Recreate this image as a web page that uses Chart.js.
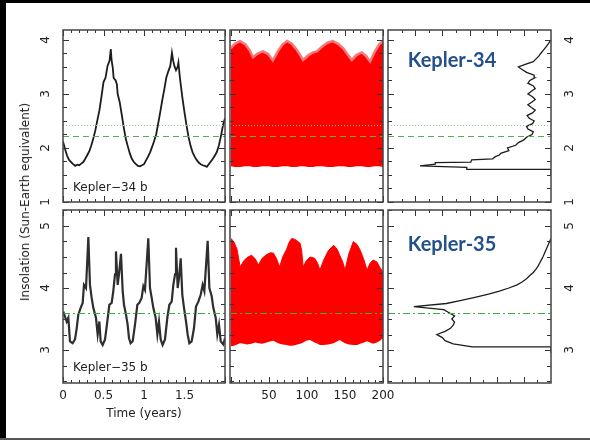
<!DOCTYPE html>
<html>
<head>
<meta charset="utf-8">
<script src="https://cdn.jsdelivr.net/npm/chart.js"></script>
<style>
  body { margin: 0; background: #fff; }
  #sheet { position: relative; width: 590px; height: 442px; overflow: hidden; background: #fff; }
  #sheet canvas { position: absolute; }
  .bar { position: absolute; z-index: 5; }
  #ytitle {
    position: absolute; left: 25px; top: 202px; z-index: 4;
    transform: translate(-50%, -50%) rotate(-90deg);
    font: 12px "DejaVu Sans", sans-serif; color: #222; white-space: nowrap;
  }
</style>
</head>
<body>
<div id="sheet">
  <div class="bar" style="left:0;top:0;width:590px;height:3px;background:#000"></div>
  <div class="bar" style="left:0;top:0;width:6px;height:440px;background:#000"></div>
  <div class="bar" style="left:0;top:438px;width:590px;height:2px;background:#555"></div>
  <div id="ytitle">Insolation (Sun-Earth equivalent)</div>
  <canvas id="k34Time"></canvas>
  <canvas id="k34Long"></canvas>
  <canvas id="k34Hist"></canvas>
  <canvas id="k35Time"></canvas>
  <canvas id="k35Long"></canvas>
  <canvas id="k35Hist"></canvas>
</div>
<script>
// ---- Kepler-34 b, first two years (years, insolation)
var k34bTime = [0,0.025,0.05,0.075,0.1,0.125,0.15,0.175,0.2,0.225,0.25,0.275,0.3,0.325,0.35,0.375,0.4,0.425,0.45,0.475,0.5,0.525,0.55,0.575,
  0.59,0.6,0.615,0.625,0.65,0.665,0.675,
  0.7,0.725,0.75,0.775,0.8,0.825,0.85,0.875,0.9,0.925,0.95,0.975,1,1.025,1.05,1.075,1.1,1.125,1.15,1.175,1.2,1.225,1.25,1.275,1.3,1.325,
  1.345,1.36,1.375,1.395,1.415,1.425,1.44,1.45,
  1.475,1.5,1.525,1.55,1.575,1.6,1.625,1.65,1.675,1.7,1.725,1.75,1.775,1.8,1.825,1.85,1.875,1.9,1.925,1.95,1.975,2];
var k34bInsol = [2.12,1.98,1.86,1.78,1.74,1.70,1.67,1.69,1.68,1.71,1.74,1.80,1.87,1.94,2.05,2.18,2.33,2.52,2.70,2.95,3.22,3.30,3.52,3.62,
  3.83,3.62,3.48,3.30,3.25,3.18,3.00,
  2.85,2.62,2.38,2.17,2.03,1.90,1.80,1.74,1.70,1.67,1.66,1.68,1.70,1.77,1.84,1.92,2.02,2.13,2.25,2.45,2.66,2.88,3.08,3.30,3.42,3.52,
  3.76,3.62,3.52,3.44,3.50,3.58,3.35,3.22,
  2.92,2.66,2.42,2.20,2.04,1.92,1.84,1.78,1.73,1.70,1.68,1.67,1.65,1.70,1.75,1.80,1.86,1.93,2.05,2.22,2.42,2.55];

// ---- Kepler-35 b, first two years
var k35bTime = [0.004,0.045,0.066,0.086,0.119,0.148,0.169,0.189,0.218,0.243,
  0.259,0.284,0.313,0.333,0.354,0.374,0.407,0.428,0.449,0.465,
  0.490,0.519,0.547,0.572,0.601,0.621,0.642,0.654,0.675,0.691,
  0.716,0.737,0.753,0.778,0.798,0.815,0.835,0.860,0.889,0.918,
  0.942,0.971,0.992,1.012,1.053,1.074,1.095,1.115,1.144,1.165,
  1.185,1.206,1.230,1.259,1.288,1.313,1.342,1.362,1.383,1.395,
  1.416,1.432,1.453,1.473,1.494,1.519,1.539,1.560,1.588,1.617,
  1.642,1.671,1.700,1.724,1.745,1.786,1.807,1.835,1.856,1.885,
  1.905,1.926,1.947,1.979,2.000];
var k35bInsol = [3.62,3.46,3.52,3.14,3.11,3.17,3.35,3.57,3.68,3.76,
  4.05,4.00,4.82,4.05,3.84,3.68,3.52,3.25,3.46,3.14,
  3.08,3.17,3.46,3.73,3.76,3.95,4.22,4.59,4.05,4.22,
  4.55,3.95,3.73,3.57,3.41,3.19,3.11,3.14,3.41,3.73,
  3.76,3.84,4.03,3.97,4.80,4.00,3.84,3.68,3.52,3.25,
  3.46,3.17,3.08,3.17,3.52,3.73,3.78,4.05,4.22,4.65,
  4.00,4.16,4.48,3.89,3.68,3.46,3.25,3.11,3.14,3.35,
  3.70,3.78,3.89,4.05,3.95,4.76,4.00,3.87,3.68,3.52,
  3.25,3.41,3.14,3.09,3.19];

// ---- 200-year envelopes (upper / lower insolation)
var k34SpanTime = [0,5,12,19,25,29,35,42,49,55,62,68,74,80,86,91,95,102,108,113,120,127,134,141,148,154,159,165,172,178,183,189,195,200];
var k34SpanHigh = [3.85,3.93,3.98,3.92,3.80,3.68,3.75,3.79,3.74,3.62,3.80,3.92,3.98,3.93,3.83,3.72,3.63,3.72,3.77,3.79,3.88,3.95,3.98,3.93,3.84,3.72,3.63,3.72,3.77,3.70,3.60,3.78,3.92,3.98];
var k34SpanLow = [1.66,1.65,1.65,1.66,1.66,1.65,1.65,1.66,1.66,1.65,1.65,1.66,1.66,1.65,1.65,1.66,1.66,1.65,1.65,1.66,1.66,1.65,1.65,1.66,1.66,1.65,1.65,1.66,1.66,1.65,1.65,1.66,1.66,1.65];

var k35SpanTime = [0,4,8,12,17,21,27,32,36,41,47,52,56,60,64,68,73,77,80,85,91,93,95,99,104,110,114,117,122,128,135,140,143,147,150,155,161,166,170,175,179,183,187,192,196,200];
var k35SpanHigh = [4.80,4.74,4.62,4.34,4.44,4.49,4.53,4.47,4.37,4.48,4.54,4.57,4.56,4.47,4.34,4.50,4.62,4.75,4.80,4.78,4.72,4.60,4.34,4.44,4.50,4.48,4.40,4.29,4.45,4.60,4.69,4.62,4.53,4.42,4.29,4.55,4.75,4.70,4.61,4.45,4.29,4.40,4.45,4.42,4.33,4.26];
var k35SpanLow = [3.06,3.07,3.09,3.11,3.10,3.09,3.10,3.12,3.11,3.10,3.12,3.14,3.15,3.12,3.10,3.09,3.08,3.07,3.07,3.08,3.10,3.11,3.12,3.15,3.16,3.12,3.10,3.08,3.08,3.09,3.11,3.14,3.16,3.13,3.11,3.09,3.08,3.08,3.10,3.12,3.14,3.12,3.10,3.12,3.15,3.19];

// ---- insolation distributions: outline points (insolation level, relative count)
var k34Level = [1.50,1.605,1.605,1.64,1.67,1.70,1.73,1.74,1.78,1.80,1.84,1.87,1.90,1.95,2.00,2.05,2.10,2.15,
  2.20,2.25,2.30,2.35,2.40,2.45,2.50,2.55,2.60,2.65,2.70,2.75,2.80,2.85,2.90,2.95,3.00,3.05,3.10,3.15,3.20,3.25,3.30,3.35,3.40,3.45,3.50,3.55,3.60,3.65,3.70,3.75,3.80,3.85,3.90,3.95,4.00];
var k34Count = [0,0,3.10,3.10,4.82,4.26,4.26,2.95,2.92,2.15,2.05,1.90,1.85,1.55,1.60,1.30,1.20,1.00,
  0.90,0.70,0.65,0.85,0.90,0.68,0.62,0.80,0.88,0.68,0.58,0.72,0.85,0.70,0.58,0.68,0.85,0.72,0.58,0.65,0.85,0.78,0.60,0.62,0.90,1.05,1.20,0.95,0.65,0.55,0.45,0.38,0.30,0.22,0.14,0.07,0];
var k35Level = [2.95,3.05,3.05,
  3.10,3.15,3.20,3.25,3.30,3.35,3.40,3.45,3.50,3.55,3.60,3.65,3.70,3.75,3.80,3.85,3.90,3.95,4.00,4.05,4.10,4.15,4.20,4.25,4.30,4.35,4.40,4.45,4.50,4.55,4.60,4.65,4.70,4.75,4.80];
var k35Count = [0,0,2.9,
  3.6,3.9,4.0,4.2,3.9,3.7,3.6,3.55,3.65,3.55,3.75,3.95,5.05,3.85,3.3,2.8,2.3,1.9,1.55,1.25,1.05,0.90,0.78,0.65,0.56,0.48,0.42,0.36,0.30,0.25,0.20,0.15,0.10,0.05,0];

// reference levels
var k34Refs = [2.42, 2.22];
var k35Refs = [3.60];

// axis labels
var timeTicks = [0, 0.5, 1, 1.5];
var spanTicks = [50, 100, 150, 200];
var k34Ticks = [1, 2, 3, 4];
var k35Ticks = [3, 4, 5];

var M = 45;
var deco = {};

function pairs(xs, ys) {
  return xs.map(function(x, i) { return { x: x, y: ys[i] }; });
}

function steps(from, to, step) {
  var out = [];
  for (var v = from; v <= to + 1e-9; v += step) out.push(Math.round(v * 1000) / 1000);
  return out;
}

Chart.register({
  id: 'panelDeco',
  afterDatasetsDraw: function(chart) {
    var d = deco[chart.canvas.id];
    if (!d) return;
    var ctx = chart.ctx, a = chart.chartArea, sx = chart.scales.x, sy = chart.scales.y;
    var w = a.right - a.left, h = a.bottom - a.top;

    // green reference levels
    ctx.save();
    ctx.beginPath(); ctx.rect(a.left, a.top, w, h); ctx.clip();
    d.refs.forEach(function(r) {
      var py = Math.round(sy.getPixelForValue(r.value)) + 0.5;
      ctx.setLineDash(r.dash);
      ctx.strokeStyle = r.color;
      ctx.lineWidth = 1;
      ctx.beginPath(); ctx.moveTo(a.left, py); ctx.lineTo(a.right, py); ctx.stroke();
    });
    ctx.restore();

    // inward ticks on all four sides
    ctx.save();
    ctx.strokeStyle = '#333';
    ctx.lineWidth = 1;
    function xt(vals, len) {
      vals.forEach(function(v) {
        var p = Math.round(sx.getPixelForValue(v)) + 0.5;
        ctx.beginPath();
        ctx.moveTo(p, a.bottom); ctx.lineTo(p, a.bottom - len);
        ctx.moveTo(p, a.top); ctx.lineTo(p, a.top + len);
        ctx.stroke();
      });
    }
    function yt(vals, len) {
      vals.forEach(function(v) {
        var p = Math.round(sy.getPixelForValue(v)) + 0.5;
        ctx.beginPath();
        ctx.moveTo(a.left, p); ctx.lineTo(a.left + len, p);
        ctx.moveTo(a.right, p); ctx.lineTo(a.right - len, p);
        ctx.stroke();
      });
    }
    xt(d.xMinor, 3); xt(d.xMajor, 6);
    yt(d.yMinor, 4); yt(d.yMajor, 6);
    ctx.lineWidth = 1.5;
    ctx.strokeStyle = '#444';
    ctx.strokeRect(a.left, a.top, w, h);

    // tick labels
    ctx.fillStyle = '#222';
    ctx.font = '12px "DejaVu Sans"';
    ctx.textAlign = 'center';
    ctx.textBaseline = 'middle';
    (d.xLabels || []).forEach(function(v) {
      ctx.fillText(String(v), sx.getPixelForValue(v), a.bottom + 13);
    });
    function rot(t, x, y) {
      ctx.save(); ctx.translate(x, y); ctx.rotate(-Math.PI / 2); ctx.fillText(t, 0, 0); ctx.restore();
    }
    (d.yLeft || []).forEach(function(v) { rot(String(v), a.left - 17, sy.getPixelForValue(v)); });
    (d.yRight || []).forEach(function(v) { rot(String(v), a.right + 19, sy.getPixelForValue(v)); });
    if (d.xTitle) ctx.fillText(d.xTitle, (a.left + a.right) / 2, a.bottom + 31);

    ctx.textAlign = 'left';
    ctx.textBaseline = 'alphabetic';
    if (d.tag) ctx.fillText(d.tag, a.left + 10, a.bottom - d.tagLift);
    if (d.star) {
      ctx.font = 'bold 20px Lato';
      ctx.fillStyle = '#24508c';
      ctx.textAlign = 'center';
      ctx.fillText(d.star, a.left + 64, a.top + d.starDrop);
    }
    ctx.restore();
  }
});

function panel(id, b, datasets, xr, yr, d) {
  var c = document.getElementById(id);
  c.width = b[2] + 2 * M;
  c.height = b[3] + 2 * M;
  c.style.left = (b[0] - M) + 'px';
  c.style.top = (b[1] - M) + 'px';
  deco[id] = d;
  return new Chart(c, {
    type: 'line',
    data: { datasets: datasets },
    options: {
      responsive: false,
      animation: false,
      devicePixelRatio: 1,
      layout: { padding: M },
      plugins: { legend: { display: false }, tooltip: { enabled: false } },
      elements: { point: { radius: 0 }, line: { tension: 0 } },
      scales: {
        x: { type: 'linear', display: false, min: xr[0], max: xr[1], reverse: !!xr[2] },
        y: { type: 'linear', display: false, min: yr[0], max: yr[1] }
      }
    }
  });
}

var topY = [1, 4.185];
var botY = [2.468, 5.258];
var topRefs = [
  { value: k34Refs[0], color: '#8fd08f', dash: [1, 2] },
  { value: k34Refs[1], color: '#4fb24f', dash: [6, 4] }
];
var botRefs = [{ value: k35Refs[0], color: '#3cae3c', dash: [7, 3, 2, 3] }];

var timeX = { xMajor: [0, 0.5, 1, 1.5, 2], xMinor: steps(0, 2, 0.1) };
var spanX = { xMajor: [0, 50, 100, 150, 200], xMinor: steps(0, 200, 10) };
var histX = { xMajor: [1, 2, 3, 4, 5], xMinor: steps(0.5, 5.5, 0.5) };
var topYT = { yMajor: [1, 2, 3, 4], yMinor: steps(1, 4, 0.25) };
var botYT = { yMajor: [3, 4, 5], yMinor: steps(2.5, 5.25, 0.25) };

function merge() {
  var o = {};
  for (var i = 0; i < arguments.length; i++) for (var k in arguments[i]) o[k] = arguments[i][k];
  return o;
}

// left column: two-year insolation curves
panel('k34Time', [63, 30, 162, 172],
  [{ data: pairs(k34bTime, k34bInsol), borderColor: '#1c1c1c', borderWidth: 1.8, fill: false }],
  [0, 2], topY,
  merge(timeX, topYT, { refs: topRefs, yLeft: k34Ticks, tag: 'Kepler\u221234 b', tagLift: 11 }));

panel('k35Time', [63, 210, 162, 173],
  [{ data: pairs(k35bTime, k35bInsol), borderColor: '#2e2e2e', borderWidth: 2.2, fill: false }],
  [0, 2], botY,
  merge(timeX, botYT, { refs: botRefs, yLeft: k35Ticks, xLabels: timeTicks, xTitle: 'Time (years)', tag: 'Kepler\u221235 b', tagLift: 12 }));

// middle column: 200-year envelopes
panel('k34Long', [230, 30, 153, 172],
  [
    { data: pairs(k34SpanTime, k34SpanLow), borderWidth: 0, borderColor: 'rgba(0,0,0,0)', fill: false },
    { data: pairs(k34SpanTime, k34SpanHigh), borderColor: '#f27a7a', borderWidth: 2.5, backgroundColor: '#ff0000', fill: '-1' }
  ],
  [-1.3, 200], topY,
  merge(spanX, topYT, { refs: topRefs }));

panel('k35Long', [230, 210, 153, 173],
  [
    { data: pairs(k35SpanTime, k35SpanLow), borderWidth: 0, borderColor: 'rgba(0,0,0,0)', fill: false },
    { data: pairs(k35SpanTime, k35SpanHigh), borderColor: '#ff0000', borderWidth: 1, backgroundColor: '#ff0000', fill: '-1' }
  ],
  [-1.3, 200], botY,
  merge(spanX, botYT, { refs: botRefs, xLabels: spanTicks }));

// right column: insolation distributions, counts growing leftwards
panel('k34Hist', [388, 30, 163, 172],
  [{ data: pairs(k34Count, k34Level), borderColor: '#1c1c1c', borderWidth: 1.3, fill: false }],
  [0, 6, true], topY,
  merge(histX, topYT, { refs: topRefs, yRight: k34Ticks, star: 'Kepler-34', starDrop: 37 }));

panel('k35Hist', [388, 210, 163, 173],
  [{ data: pairs(k35Count, k35Level), borderColor: '#1c1c1c', borderWidth: 1.3, fill: false }],
  [0, 6, true], botY,
  merge(histX, botYT, { refs: botRefs, yRight: k35Ticks, star: 'Kepler-35', starDrop: 41 }));
</script>
</body>
</html>
